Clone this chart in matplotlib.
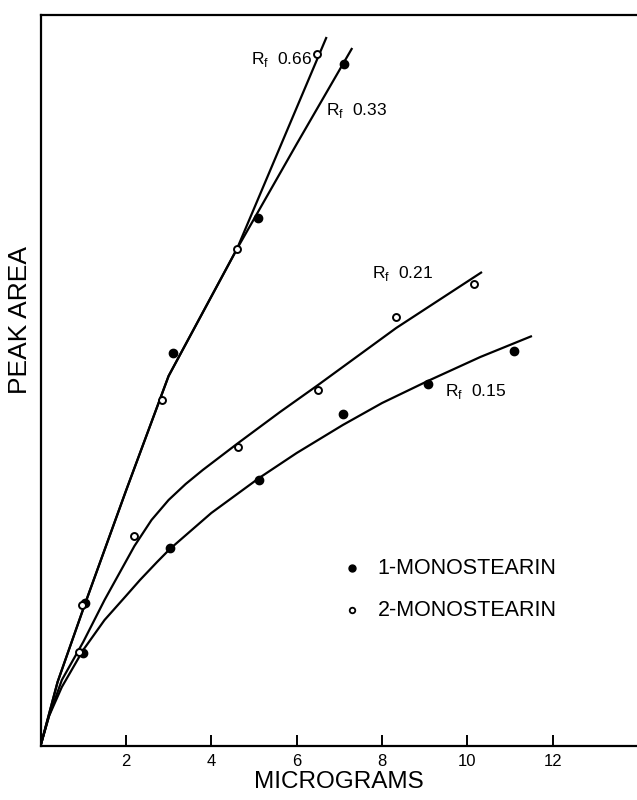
import matplotlib
matplotlib.use("Agg")
import matplotlib.pyplot as plt

# ---- data (x in micrograms, y in arbitrary peak-area units) ----
# 1-monostearin (filled) points
mono1_x = [1.05, 3.1, 5.1, 7.1, 1.0, 3.03, 5.12, 7.08, 9.07, 11.1]
mono1_y = [14.3, 39.3, 52.8, 68.2, 9.3, 19.8, 26.6, 33.2, 36.2, 39.5]
# 2-monostearin (open) points
mono2_x = [0.98, 2.85, 4.6, 6.48, 0.9, 2.2, 4.63, 6.5, 8.33, 10.15]
mono2_y = [14.1, 34.6, 49.7, 69.2, 9.4, 21.0, 29.9, 35.6, 42.9, 46.2]

# drawn curves (vertices)
c066_x = [0.0, 0.4, 1.05, 2.0, 3.0, 4.6, 6.7]
c066_y = [0.0, 6.4, 14.3, 25.5, 37.0, 49.7, 70.9]
c033_x = [0.0, 0.4, 1.05, 2.0, 3.0, 4.6, 6.0, 7.3]
c033_y = [0.0, 6.4, 14.3, 25.5, 37.0, 49.7, 60.2, 69.8]
c021_x = [0.0, 0.2, 0.5, 1.0, 1.5, 2.2, 2.6, 3.0, 3.4, 3.8, 4.63, 5.61, 6.5, 8.33, 10.34]
c021_y = [0.0, 3.0, 6.6, 10.4, 14.6, 20.0, 22.6, 24.6, 26.2, 27.6, 30.3, 33.4, 36.1, 41.8, 47.4]
c015_x = [0.0, 0.2, 0.5, 1.0, 1.5, 2.0, 2.33, 2.73, 3.03, 4.0, 5.12, 6.0, 7.08, 8.0, 9.07, 10.3, 11.51]
c015_y = [0.0, 3.0, 5.9, 9.6, 12.6, 15.0, 16.6, 18.4, 19.7, 23.3, 26.8, 29.3, 32.1, 34.3, 36.5, 38.9, 41.0]

xticks = [2, 4, 6, 8, 10, 12]

plt.rcParams['font.family'] = ['Liberation Sans', 'DejaVu Sans']

fig = plt.figure(figsize=(6.37, 8.0), dpi=100)
ax = fig.add_axes([40.5 / 637, 54 / 800, 1 - 40.5 / 637, 731 / 800])
ax.set_xlim(0, 13.97)
ax.set_ylim(0, 73.1)

for cx, cy in [(c066_x, c066_y), (c033_x, c033_y), (c021_x, c021_y), (c015_x, c015_y)]:
    ax.plot(cx, cy, color='black', lw=1.6, solid_capstyle='butt', solid_joinstyle='round', zorder=2)

ax.plot(mono1_x, mono1_y, 'o', ms=6, color='black', zorder=3)
ax.plot(mono2_x, mono2_y, 'o', ms=5, mfc='white', mec='black', mew=1.4, zorder=3)

ax.spines['right'].set_visible(False)
for s in ['left', 'bottom', 'top']:
    ax.spines[s].set_linewidth(1.6)
ax.set_xticks(xticks)
ax.set_xticklabels([str(t) for t in xticks], fontsize=12)
ax.tick_params(axis='x', direction='in', length=8, width=1.4, pad=6)
ax.set_yticks([])
ax.set_xlabel('MICROGRAMS', fontsize=17.5)
ax.xaxis.set_label_coords((339 - 40.5) / 596.5, -25 / 731)
ax.set_ylabel('PEAK AREA', fontsize=19)
ax.yaxis.set_label_coords(-8 / 596.5, (746 - 320) / 731)

# curve labels
lab = dict(fontsize=12.5, ha='center', va='center')
ax.text(5.65, 68.6, r'R$_\mathregular{f}$  0.66', **lab)
ax.text(7.4, 63.5, r'R$_\mathregular{f}$  0.33', **lab)
ax.text(8.49, 47.2, r'R$_\mathregular{f}$  0.21', **lab)
ax.text(10.2, 35.4, r'R$_\mathregular{f}$  0.15', **lab)

# legend
ax.plot([7.3], [17.8], 'o', ms=5, color='black')
ax.plot([7.3], [13.6], 'o', ms=4, mfc='white', mec='black', mew=1.3)
ax.text(7.9, 17.8, '1-MONOSTEARIN', fontsize=15.5, va='center')
ax.text(7.9, 13.6, '2-MONOSTEARIN', fontsize=15.5, va='center')

fig.savefig('out.png', dpi=100)
